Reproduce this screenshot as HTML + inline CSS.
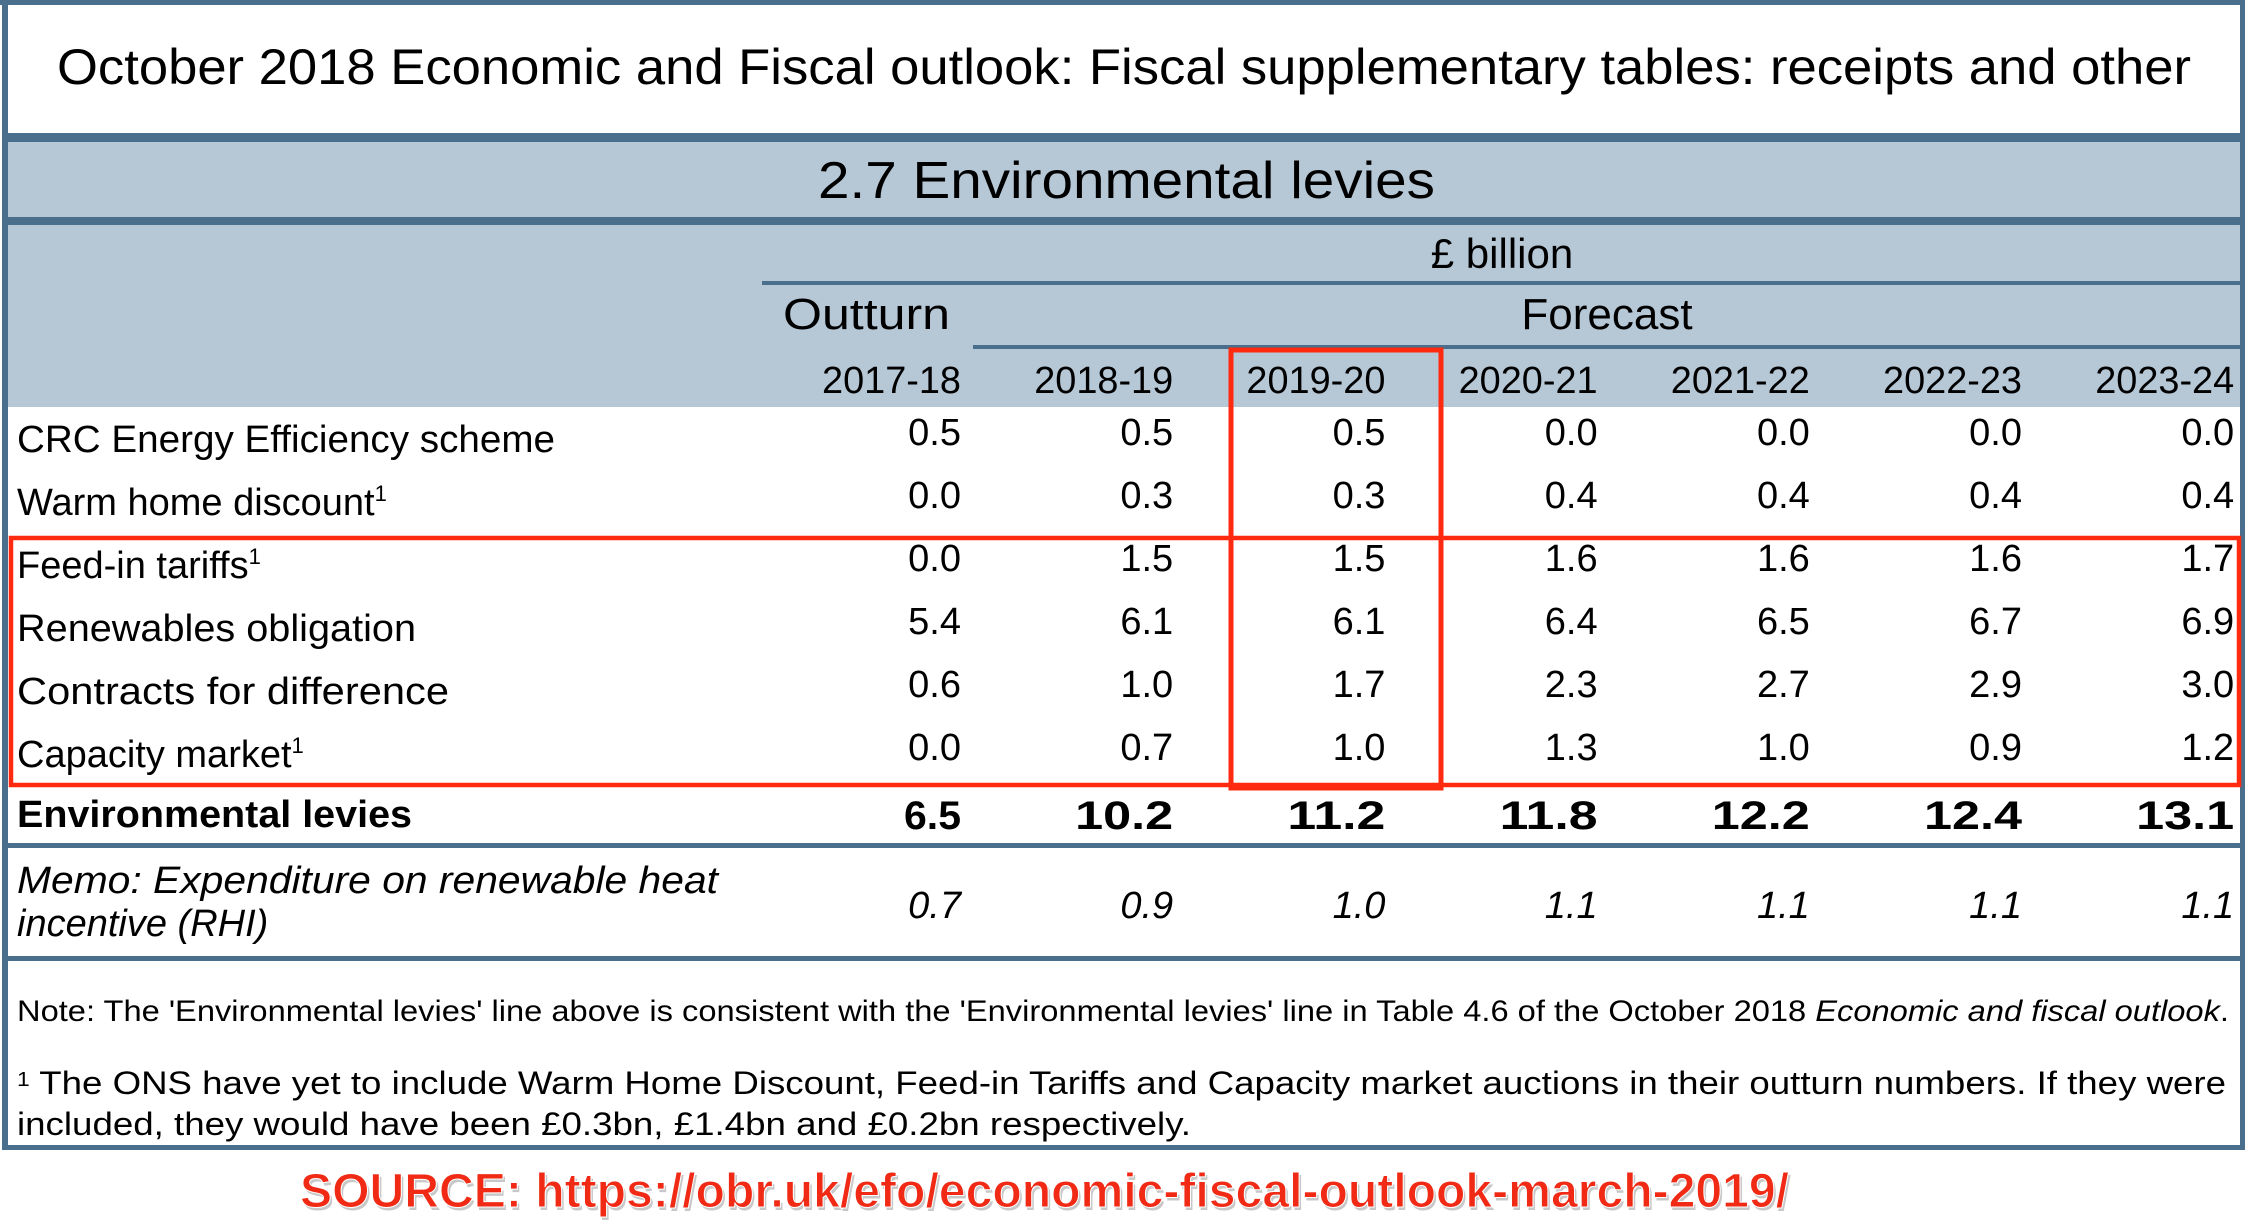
<!DOCTYPE html>
<html><head><meta charset="utf-8"><style>
html,body{margin:0;padding:0;background:#fff;width:2250px;height:1230px;overflow:hidden}
svg{display:block;font-family:"Liberation Sans",sans-serif}
</style></head><body>
<svg id="tbl" width="2250" height="1230" viewBox="0 0 2250 1230">
<rect x="0" y="0" width="2250" height="1230" fill="#fff"/>
<rect x="2" y="0" width="6" height="1150" fill="#4a6f8c"/>
<rect x="2240" y="0" width="5" height="1150" fill="#4a6f8c"/>
<rect x="0" y="0" width="2245" height="5" fill="#4a6f8c"/>
<rect x="2" y="1145" width="2243" height="5" fill="#4a6f8c"/>
<text x="57" y="84" font-size="50" textLength="2134" lengthAdjust="spacingAndGlyphs" fill="#000">October 2018 Economic and Fiscal outlook: Fiscal supplementary tables: receipts and other</text>
<rect x="8" y="133" width="2232" height="9" fill="#4a6f8c"/>
<rect x="8" y="142" width="2232" height="75" fill="#b6c7d6"/>
<rect x="8" y="217" width="2232" height="8" fill="#4a6f8c"/>
<text x="818" y="198" font-size="52" textLength="617" lengthAdjust="spacingAndGlyphs">2.7 Environmental levies</text>
<rect x="8" y="225" width="2232" height="182" fill="#b6c7d6"/>
<text x="1502" y="268" font-size="42" text-anchor="middle">£ billion</text>
<rect x="762" y="281" width="1478" height="4" fill="#4a6f8c"/>
<text x="783" y="329" font-size="44" textLength="167" lengthAdjust="spacingAndGlyphs">Outturn</text>
<text x="1607" y="329" font-size="44" text-anchor="middle">Forecast</text>
<rect x="973" y="345" width="1267" height="4" fill="#4a6f8c"/>
<g id="years"></g>
<g id="rows"></g>
<rect x="8" y="843" width="2232" height="5" fill="#4a6f8c"/>
<rect x="8" y="956" width="2232" height="5" fill="#4a6f8c"/>
<text x="17" y="1021" font-size="30" textLength="2212" lengthAdjust="spacingAndGlyphs">Note: The 'Environmental levies' line above is consistent with the 'Environmental levies' line in Table 4.6 of the October 2018 <tspan font-style="italic">Economic and fiscal outlook</tspan>.</text>
<text x="17" y="1094" font-size="32" textLength="2209" lengthAdjust="spacingAndGlyphs"><tspan font-size="20" dy="-8">1</tspan><tspan dy="8"> The ONS have yet to include Warm Home Discount, Feed-in Tariffs and Capacity market auctions in their outturn numbers. If they were</tspan></text>
<text x="17" y="1135" font-size="32" textLength="1174" lengthAdjust="spacingAndGlyphs">included, they would have been £0.3bn, £1.4bn and £0.2bn respectively.</text>
<rect x="11" y="538" width="2228" height="247" fill="none" stroke="#ff2a10" stroke-width="4.5"/>
<rect x="1231" y="350" width="210" height="438" fill="none" stroke="#ff2a10" stroke-width="5"/>
<text x="300" y="1207" font-size="48" font-weight="bold" fill="#c8c8c8" textLength="1489" lengthAdjust="spacingAndGlyphs" transform="translate(2,3)">SOURCE: https://obr.uk/efo/economic-fiscal-outlook-march-2019/</text>
<text x="300" y="1207" font-size="48" font-weight="bold" fill="#f02a14" stroke="#fff" stroke-width="1" textLength="1489" lengthAdjust="spacingAndGlyphs">SOURCE: https://obr.uk/efo/economic-fiscal-outlook-march-2019/</text>
</svg>
<script>
const years = ["2017-18","2018-19","2019-20","2020-21","2021-22","2022-23","2023-24"];
const rowLabels = ["CRC Energy Efficiency scheme","Warm home discount","Feed-in tariffs","Renewables obligation","Contracts for difference","Capacity market"];
const rowSup = [false,true,true,false,false,true];
const crc = [0.5,0.5,0.5,0.0,0.0,0.0,0.0];
const warmHome = [0.0,0.3,0.3,0.4,0.4,0.4,0.4];
const feedIn = [0.0,1.5,1.5,1.6,1.6,1.6,1.7];
const renewables = [5.4,6.1,6.1,6.4,6.5,6.7,6.9];
const cfd = [0.6,1.0,1.7,2.3,2.7,2.9,3.0];
const capacity = [0.0,0.7,1.0,1.3,1.0,0.9,1.2];
const totalLevies = [6.5,10.2,11.2,11.8,12.2,12.4,13.1];
const memoRhi = [0.7,0.9,1.0,1.1,1.1,1.1,1.1];

const NS="http://www.w3.org/2000/svg";
const colRight = i => 961 + i*212.2;
const rowY = i => 445 + i*63;
function txt(parent,x,y,s,size,anchor){
  const t=document.createElementNS(NS,"text");
  t.setAttribute("x",x);t.setAttribute("y",y);t.setAttribute("font-size",size);
  if(anchor)t.setAttribute("text-anchor",anchor);
  t.textContent=s;parent.appendChild(t);return t;
}
const yg=document.getElementById("years");
years.forEach((yr,i)=>{
  const t=txt(yg,colRight(i),393,yr,38,"end");
  t.setAttribute("textLength",139);t.setAttribute("lengthAdjust","spacingAndGlyphs");
  
  
});
const rg=document.getElementById("rows");
const series=[crc,warmHome,feedIn,renewables,cfd,capacity];
const labelW=[538,null,null,399,432,null];
rowLabels.forEach((lab,r)=>{
  const t=txt(rg,17,rowY(r)+7,lab,38);
  if(labelW[r]){t.setAttribute("textLength",labelW[r]);t.setAttribute("lengthAdjust","spacingAndGlyphs");}
  if(rowSup[r]){const s=document.createElementNS(NS,"tspan");s.setAttribute("font-size","22");s.setAttribute("dy","-14");s.textContent="1";t.appendChild(s);}
  
  
  series[r].forEach((v,i)=>{
    const c=txt(rg,colRight(i),rowY(r),v.toFixed(1),38,"end");
    
    
  });
});
const tl=txt(rg,17,827,"Environmental levies",38);
tl.setAttribute("font-weight","bold");tl.setAttribute("textLength",395);tl.setAttribute("lengthAdjust","spacingAndGlyphs");


totalLevies.forEach((v,i)=>{
  const s=v.toFixed(1);
  const c=txt(rg,colRight(i),829,s,40,"end");
  c.setAttribute("font-weight","bold");
  c.setAttribute("textLength", s.length>3 ? 98 : 57);
  c.setAttribute("lengthAdjust","spacingAndGlyphs");
  
  
});
const m1=txt(rg,17,893,"",38);
m1.innerHTML='<tspan font-style="italic">Memo:</tspan><tspan font-style="italic"> Expenditure on renewable heat</tspan>';
m1.setAttribute("textLength",701);m1.setAttribute("lengthAdjust","spacingAndGlyphs");


const m2=txt(rg,17,936,"incentive (RHI)",38);
m2.setAttribute("font-style","italic");


memoRhi.forEach((v,i)=>{
  const c=txt(rg,colRight(i),918,v.toFixed(1),38,"end");
  c.setAttribute("font-style","italic");
  
  
});
</script>
</body></html>
